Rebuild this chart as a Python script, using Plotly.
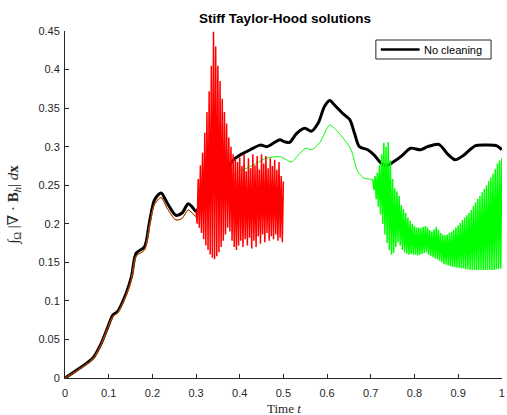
import numpy as np
import plotly.graph_objects as go

# --- No cleaning (thick black) ---
t_black = [0, 0.034, 0.064, 0.083, 0.098, 0.11, 0.12, 0.14, 0.152, 0.163, 0.182,
           0.193, 0.205, 0.22, 0.234, 0.254, 0.268, 0.282, 0.291, 0.30, 0.318,
           0.341, 0.364, 0.386, 0.40, 0.424, 0.447, 0.461, 0.47, 0.481, 0.492,
           0.504, 0.515, 0.53, 0.549, 0.564, 0.58, 0.594, 0.606, 0.617, 0.636,
           0.652, 0.663, 0.674, 0.693, 0.708, 0.723, 0.734, 0.754, 0.773, 0.791,
           0.814, 0.83, 0.856, 0.875, 0.893, 0.913, 0.939, 0.966, 0.989, 1.0]
v_black = [0, 0.013, 0.026, 0.045, 0.066, 0.082, 0.086, 0.11, 0.131, 0.162, 0.170,
           0.201, 0.231, 0.240, 0.227, 0.211, 0.214, 0.226, 0.222, 0.216, 0.235,
           0.244, 0.266, 0.283, 0.289, 0.296, 0.302, 0.300, 0.302, 0.306, 0.309,
           0.306, 0.306, 0.317, 0.324, 0.320, 0.331, 0.352, 0.360, 0.354, 0.343,
           0.335, 0.317, 0.300, 0.296, 0.289, 0.279, 0.275, 0.281, 0.289, 0.298,
           0.296, 0.300, 0.303, 0.291, 0.283, 0.289, 0.301, 0.302, 0.301, 0.296]

# --- shared early history (red and green coincide until t = 0.3) ---
t_early = [0, 0.034, 0.064, 0.083, 0.098, 0.11, 0.12, 0.14, 0.152, 0.163, 0.182,
           0.193, 0.205, 0.22, 0.234, 0.254, 0.268, 0.282, 0.291, 0.30]
v_early = [0, 0.012, 0.025, 0.044, 0.065, 0.080, 0.084, 0.107, 0.128, 0.158, 0.166,
           0.196, 0.225, 0.234, 0.220, 0.205, 0.207, 0.218, 0.214, 0.209]

# --- red: oscillating phase, t = 0.300 ... 0.500 (step 0.0025) ---
v_red_osc = [0.216, 0.200, 0.258, 0.195, 0.276, 0.188, 0.292, 0.180, 0.318, 0.172,
             0.345, 0.166, 0.372, 0.160, 0.405, 0.156, 0.449, 0.154, 0.430, 0.158,
             0.405, 0.163, 0.385, 0.170, 0.362, 0.178, 0.345, 0.186, 0.330, 0.195,
             0.312, 0.190, 0.300, 0.178, 0.290, 0.170, 0.284, 0.166, 0.280, 0.172,
             0.286, 0.178, 0.275, 0.170, 0.290, 0.180, 0.268, 0.172, 0.285, 0.182,
             0.272, 0.168, 0.290, 0.178, 0.276, 0.170, 0.288, 0.184, 0.270, 0.174,
             0.290, 0.186, 0.278, 0.176, 0.288, 0.188, 0.272, 0.178, 0.285, 0.184,
             0.275, 0.180, 0.283, 0.186, 0.270, 0.178, 0.280, 0.182, 0.262, 0.176,
             0.255]
t_red_osc = np.linspace(0.30, 0.50, len(v_red_osc))

# --- green: smooth phase after t = 0.3 ---
t_green_mid = [0.30, 0.318, 0.341, 0.364, 0.386, 0.398, 0.416, 0.443, 0.461, 0.492,
               0.507, 0.518, 0.534, 0.552, 0.564, 0.583, 0.606, 0.62, 0.64, 0.655,
               0.67, 0.685, 0.697, 0.705]
v_green_mid = [0.209, 0.220, 0.229, 0.244, 0.261, 0.268, 0.272, 0.280, 0.285, 0.287,
               0.283, 0.280, 0.289, 0.298, 0.296, 0.305, 0.328, 0.322, 0.309, 0.296,
               0.268, 0.259, 0.258, 0.257]

# --- green: oscillating phase, t = 0.705 ... 1.000 (step 0.0025) ---
v_green_osc = [0.257, 0.244, 0.262, 0.232, 0.266, 0.222, 0.276, 0.212, 0.290, 0.200,
               0.305, 0.186, 0.300, 0.175, 0.306, 0.166, 0.282, 0.160, 0.258, 0.162,
               0.246, 0.170, 0.242, 0.176, 0.236, 0.172, 0.224, 0.166, 0.219, 0.163,
               0.214, 0.161, 0.208, 0.160, 0.204, 0.161, 0.200, 0.160, 0.197, 0.160,
               0.195, 0.159, 0.195, 0.160, 0.194, 0.161, 0.196, 0.162, 0.197, 0.163,
               0.195, 0.160, 0.192, 0.158, 0.190, 0.157, 0.193, 0.155, 0.196, 0.154,
               0.192, 0.152, 0.188, 0.150, 0.186, 0.148, 0.185, 0.147, 0.186, 0.146,
               0.188, 0.145, 0.190, 0.144, 0.192, 0.144, 0.195, 0.143, 0.198, 0.143,
               0.201, 0.142, 0.205, 0.142, 0.208, 0.141, 0.211, 0.141, 0.214, 0.140,
               0.218, 0.140, 0.223, 0.140, 0.228, 0.140, 0.232, 0.140, 0.236, 0.140,
               0.241, 0.140, 0.245, 0.140, 0.250, 0.140, 0.255, 0.140, 0.260, 0.140,
               0.265, 0.140, 0.271, 0.141, 0.278, 0.141, 0.282, 0.142, 0.285]
t_green_osc = np.linspace(0.705, 1.0, len(v_green_osc))

x_ticks = [0, 0.1, 0.2, 0.3, 0.4, 0.5, 0.6, 0.7, 0.8, 0.9, 1]
x_tick_text = ["0", "0.1", "0.2", "0.3", "0.4", "0.5", "0.6", "0.7", "0.8", "0.9", "1"]
y_ticks = [0, 0.05, 0.1, 0.15, 0.2, 0.25, 0.3, 0.35, 0.4, 0.45]
y_tick_text = ["0", "0.05", "0.1", "0.15", "0.2", "0.25", "0.3", "0.35", "0.4", "0.45"]

RED = "#ff0000"
GREEN = "#00ff00"
AX = "#262626"
SANS = "Liberation Sans, Arial"
SERIF = "Liberation Serif, DejaVu Serif"

fig = go.Figure()
fig.add_trace(go.Scatter(x=t_black, y=v_black, mode="lines", name="No cleaning",
                         showlegend=False,
                         line=dict(color="black", width=3, shape="spline", smoothing=0.8)))
# green history
fig.add_trace(go.Scatter(x=t_early + t_green_mid[1:], y=v_early + v_green_mid[1:],
                         mode="lines", showlegend=False,
                         line=dict(color=GREEN, width=1, shape="spline", smoothing=0.8)))
fig.add_trace(go.Scatter(x=t_green_osc, y=v_green_osc, mode="lines", showlegend=False,
                         line=dict(color=GREEN, width=1.5)))
# red history
fig.add_trace(go.Scatter(x=t_early, y=v_early, mode="lines", showlegend=False,
                         line=dict(color=RED, width=1, shape="spline", smoothing=0.8)))
fig.add_trace(go.Scatter(x=t_red_osc, y=v_red_osc, mode="lines", showlegend=False,
                         line=dict(color=RED, width=1.5)))

axis_common = dict(showgrid=False, zeroline=False, showline=True, linecolor=AX,
                   linewidth=1, ticks="inside", ticklen=4, tickcolor=AX, tickwidth=1,
                   tickfont=dict(family=SANS, size=11, color=AX), mirror=False,
                   ticklabeloverflow="allow")

fig.update_xaxes(range=[0, 1.0005], tickmode="array", tickvals=x_ticks,
                 ticktext=x_tick_text, ticklabelstandoff=5, **axis_common)
fig.update_yaxes(range=[0, 0.45], tickmode="array", tickvals=y_ticks,
                 ticktext=y_tick_text, ticklabelstandoff=2, **axis_common)


# legend box for the "No cleaning" curve (pixel layout -> paper coords)
def px(xp):
    return (xp - 65) / 440


def py(yp):
    return (378 - yp) / 347


legend_shapes = [
    dict(type="rect", xref="paper", yref="paper", x0=px(378), x1=px(494),
         y0=py(59), y1=py(40), line=dict(color=AX, width=1), fillcolor="white",
         layer="above"),
    dict(type="line", xref="paper", yref="paper", x0=px(383), x1=px(422),
         y0=py(49.5), y1=py(49.5), line=dict(color="black", width=2.5), layer="above"),
]

fig.update_layout(
    width=507, height=415,
    margin=dict(l=65, r=2, t=31, b=37),
    plot_bgcolor="white", paper_bgcolor="white",
    title=dict(text="<b>Stiff Taylor-Hood solutions</b>", x=285 / 507, xanchor="center",
               y=1 - 18 / 415, yanchor="middle",
               font=dict(family=SANS, size=13.5, color="black")),
    showlegend=False,
    shapes=legend_shapes,
    annotations=[
        dict(text="No cleaning", xref="paper", yref="paper", x=px(424), y=py(49.5),
             xanchor="left", yanchor="middle", showarrow=False,
             font=dict(family=SANS, size=11, color="black")),
        dict(text="Time <i>t</i>", xref="paper", yref="paper", x=0.5, y=-(408.5 - 378) / 347,
             xanchor="center", yanchor="middle", showarrow=False,
             font=dict(family=SERIF, size=13, color=AX)),
        dict(text="∫<sub>Ω</sub> |∇ · <b>B</b><sub><i>h</i></sub>| <i>d</i><b>x</b>",
             xref="paper", yref="paper", x=px(13), y=0.5, textangle=-90,
             xanchor="center", yanchor="middle", showarrow=False,
             font=dict(family=SERIF, size=15, color=AX)),
    ],
)

fig.write_html("out.html")
